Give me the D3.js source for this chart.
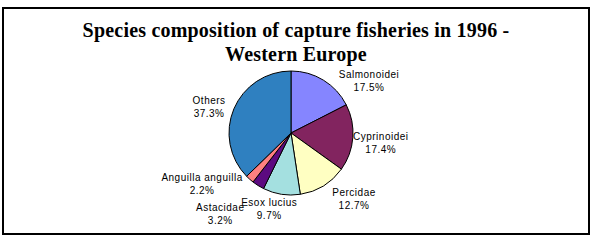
<!DOCTYPE html>
<meta charset="utf-8">
<script src="https://d3js.org/d3.v7.min.js"></script>
<style>
    body { margin: 0; background: #fff; }
</style>
<div id="chart"></div>
<script>

    // data (clockwise from 12 o'clock)
    var species = ["Salmonoidei", "Cyprinoidei", "Percidae", "Esox lucius", "Astacidae", "Anguilla anguilla", "Others"];
    var shares = [17.5, 17.4, 12.7, 9.7, 3.2, 2.2, 37.3];

    // slice colours (the dithered fills of the original, averaged)
    var colors = ["#8585ff", "#82245f", "#ffffc2", "#a4e0e0", "#5c0a80", "#ff8080", "#2f80c0"];

    // label placement tweaks (label box centre, relative to the outer label ellipse)
    var labelNudge = [[31, 12], [0, 4], [16, 2], [-8, 2], [-23, 17], [-29, -5], [1, 3]];

    var width = 596, height = 241;
    var cx = 291, cy = 133, r = 62;

    var svg = d3.select("#chart").append("svg")
        .attr("width", width)
        .attr("height", height);

    // frame
    svg.append("rect")
        .attr("x", 3).attr("y", 8)
        .attr("width", 586).attr("height", 226)
        .attr("fill", "none")
        .attr("stroke", "#000")
        .attr("stroke-width", 2);

    // title
    var title = svg.append("text")
        .attr("text-anchor", "middle")
        .style("font-family", "'Liberation Serif', 'Times New Roman', serif")
        .style("font-weight", "bold")
        .style("font-size", "20px")
        .style("letter-spacing", "0.2px");
    title.append("tspan").attr("x", 296).attr("y", 37).text("Species composition of capture fisheries in 1996 -");
    title.append("tspan").attr("x", 296).attr("y", 61).text("Western Europe");

    var data = species.map(function (s, i) { return { name: s, value: shares[i], i: i }; });

    var pie = d3.pie().sort(null).value(function (d) { return d.value; });
    var arc = d3.arc().innerRadius(0).outerRadius(r);

    var g = svg.append("g").attr("transform", "translate(" + cx + "," + cy + ")");

    var arcs = pie(data);

    g.selectAll("path")
        .data(arcs)
        .enter()
        .append("path")
        .attr("d", arc)
        .attr("fill", function (d) { return colors[d.data.i]; })
        .attr("stroke", "#000")
        .attr("stroke-width", 1);

    // labels
    var rx = 90, ry = 75;
    var labels = g.selectAll("text.lab")
        .data(arcs)
        .enter()
        .append("text")
        .attr("class", "lab")
        .attr("text-anchor", "middle")
        .style("font-family", "'Liberation Sans', Arial, sans-serif")
        .style("font-size", "10px")
        .style("letter-spacing", "0.5px")
        .attr("transform", function (d) {
            var a = (d.startAngle + d.endAngle) / 2;
            var n = labelNudge[d.data.i];
            var x = Math.sin(a) * rx + n[0];
            var y = -Math.cos(a) * ry + n[1];
            return "translate(" + x + "," + y + ")";
        });
    labels.append("tspan").attr("x", 0).attr("y", -3).text(function (d) { return d.data.name; });
    labels.append("tspan").attr("x", 0).attr("y", 10).text(function (d) { return d3.format(".1f")(d.data.value) + "%"; });

</script>
